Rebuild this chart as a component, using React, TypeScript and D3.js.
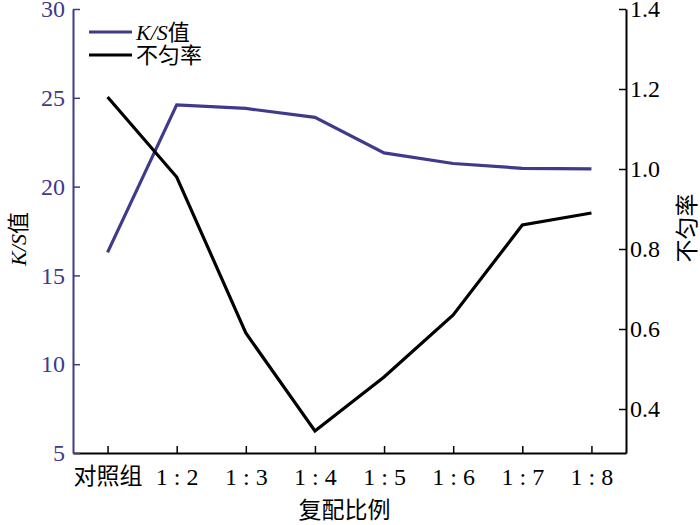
import React, { useEffect, useRef } from 'react'
import * as d3 from 'd3'

// 复配比例 categories
const categories = ['对照组', '1 : 2', '1 : 3', '1 : 4', '1 : 5', '1 : 6', '1 : 7', '1 : 8']
// K/S值 series (left axis)
const ksValues = [16.3, 24.6, 24.4, 23.9, 21.9, 21.3, 21.03, 21.0]
// 不匀率 series (right axis)
const unevenValues = [1.18, 0.98, 0.59, 0.345, 0.48, 0.635, 0.86, 0.89]
const leftTicks = [5, 10, 15, 20, 25, 30]
const rightTicks = [0.4, 0.6, 0.8, 1.0, 1.2, 1.4]

const W = 700
const H = 525
const left = 73
const right = 626
const top = 9
const bottom = 453
const purple = '#3f3a8a'
const numFont = '"Liberation Serif", "Noto Sans CJK SC", serif'
const cjkFont = '"Noto Sans CJK SC", "Liberation Serif", serif'

function App() {
  const svgEl = useRef<SVGSVGElement>(null)

  useEffect(() => {
    const svg = d3.select(svgEl.current)
    svg.selectAll('*').remove()

    const x = d3.scalePoint<string>().domain(categories).range([left, right]).padding(0.5)
    const yL = d3.scaleLinear().domain([5, 30]).range([bottom, top])
    const yR = d3.scaleLinear().domain([0.29, 1.4]).range([bottom, top])

    // bottom axis
    const gx = svg.append('g').attr('transform', `translate(0,${bottom})`)
      .call(d3.axisBottom(x).tickSize(-7).tickSizeOuter(0).tickPadding(15))
    gx.select('.domain').attr('stroke', '#000').attr('stroke-width', 2)
    gx.selectAll('.tick line').attr('stroke', '#000').attr('stroke-width', 1.5)
    gx.selectAll('.tick text')
      .attr('fill', '#000')
      .style('font-family', (d: any) => (d === '对照组' ? cjkFont : numFont))
      .style('font-size', (d: any) => (d === '对照组' ? '23px' : '24px'))

    // left axis
    const gl = svg.append('g').attr('transform', `translate(${left},0)`)
      .call(d3.axisLeft(yL).tickValues(leftTicks).tickSize(-7).tickSizeOuter(0).tickPadding(8))
    gl.select('.domain').attr('stroke', purple).attr('stroke-width', 2)
    gl.selectAll('.tick line').attr('stroke', purple).attr('stroke-width', 1.5)
    gl.selectAll('.tick text').attr('fill', purple)
      .style('font-family', numFont).style('font-size', '24px')

    // right axis
    const gr = svg.append('g').attr('transform', `translate(${right},0)`)
      .call(d3.axisRight(yR).tickValues(rightTicks).tickSize(-7).tickSizeOuter(0).tickPadding(4)
        .tickFormat(d3.format('.1f')))
    gr.select('.domain').attr('stroke', '#000').attr('stroke-width', 2)
    gr.selectAll('.tick line').attr('stroke', '#000').attr('stroke-width', 1.5)
    gr.selectAll('.tick text').attr('fill', '#000')
      .style('font-family', numFont).style('font-size', '24px')

    // lines
    const lineL = d3.line<number>().x((d, i) => x(categories[i])!).y(d => yL(d))
    const lineR = d3.line<number>().x((d, i) => x(categories[i])!).y(d => yR(d))
    svg.append('path').attr('d', lineL(ksValues)!).attr('fill', 'none')
      .attr('stroke', purple).attr('stroke-width', 3.2)
    svg.append('path').attr('d', lineR(unevenValues)!).attr('fill', 'none')
      .attr('stroke', '#000').attr('stroke-width', 3.2)

    // axis titles
    const ly = svg.append('text')
      .attr('transform', `translate(26,${(top + bottom) / 2 + 8}) rotate(-90)`)
      .attr('text-anchor', 'middle').attr('fill', '#000')
      .style('font-size', '22px')
    ly.append('tspan').text('K/S').style('font-family', numFont).style('font-style', 'italic')
    ly.append('tspan').text('值').style('font-family', cjkFont)

    svg.append('text')
      .attr('transform', `translate(695,${(top + bottom) / 2 - 3}) rotate(-90)`)
      .attr('text-anchor', 'middle').attr('fill', '#000')
      .style('font-family', cjkFont).style('font-size', '23px')
      .text('不匀率')

    svg.append('text')
      .attr('x', (left + right) / 2 - 5).attr('y', 518)
      .attr('text-anchor', 'middle').attr('fill', '#000')
      .style('font-family', cjkFont).style('font-size', '23px')
      .text('复配比例')

    // legend
    const legend = [
      { label: 'K/S', suffix: '值', color: purple },
      { label: '', suffix: '不匀率', color: '#000' },
    ]
    legend.forEach((item, i) => {
      const yy = 32 + i * 23
      svg.append('line').attr('x1', 89).attr('x2', 132).attr('y1', yy).attr('y2', yy)
        .attr('stroke', item.color).attr('stroke-width', 3.2)
      const t = svg.append('text').attr('x', 136).attr('y', yy + 8).attr('fill', '#000')
        .style('font-size', '22px')
      if (item.label) {
        t.append('tspan').text(item.label).style('font-family', numFont).style('font-style', 'italic')
      }
      t.append('tspan').text(item.suffix).style('font-family', cjkFont)
    })
  }, [])

  return (
    <div>
      <svg ref={svgEl} width={W} height={H}
        style={{ position: 'absolute', left: 0, top: 0, background: '#fff' }} />
    </div>
  )
}

export default App
